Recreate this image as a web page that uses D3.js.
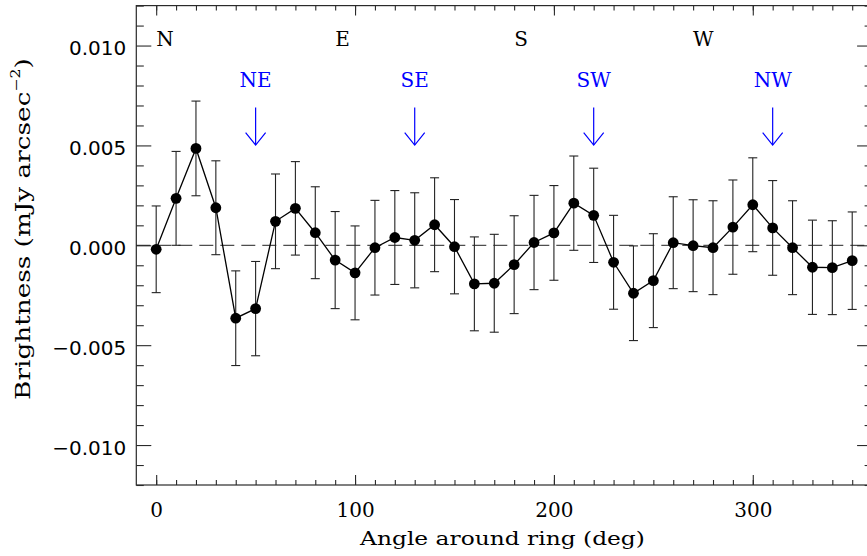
<!DOCTYPE html>
<html>
<head>
<meta charset="utf-8">
<script src="https://cdn.jsdelivr.net/npm/d3@7/dist/d3.min.js"></script>
<style>
  html, body { margin: 0; padding: 0; background: #fff; }
  svg { display: block; font-family: "DejaVu Serif", serif; }
</style>
</head>
<body>
<svg id="chart" width="867" height="556"></svg>
<script>
// Ring brightness profile versus azimuthal angle
const angles = [0, 10, 20, 30, 40, 50, 60, 70, 80, 90, 100, 110,
                120, 130, 140, 150, 160, 170, 180, 190, 200, 210, 220, 230,
                240, 250, 260, 270, 280, 290, 300, 310, 320, 330, 340, 350];
const brightness = [-0.00020, 0.00235, 0.00485, 0.00188, -0.00365, -0.00317,
                    0.00120, 0.00185, 0.00063, -0.00074, -0.00138, -0.00012,
                    0.00039, 0.00025, 0.00103, -0.00007, -0.00193, -0.00190,
                    -0.00097, 0.00014, 0.00062, 0.00211, 0.00150, -0.00085,
                    -0.00240, -0.00177, 0.00013, -0.00002, -0.00012, 0.00091,
                    0.00203, 0.00087, -0.00012, -0.00110, -0.00112, -0.00077];
const brightnessErr = [0.00217, 0.00235, 0.00237, 0.00235, 0.00237, 0.00236,
                       0.00237, 0.00234, 0.00230, 0.00243, 0.00235, 0.00237,
                       0.00235, 0.00238, 0.00235, 0.00236, 0.00235, 0.00245,
                       0.00245, 0.00236, 0.00237, 0.00236, 0.00236, 0.00235,
                       0.00237, 0.00235, 0.00230, 0.00230, 0.00235, 0.00236,
                       0.00235, 0.00237, 0.00235, 0.00236, 0.00235, 0.00244];

// Cardinal and intercardinal markers
const cardinalLabels = ["N", "E", "S", "W"];
const cardinalAngles = [0, 90, 180, 270];
const diagonalLabels = ["NE", "SE", "SW", "NW"];
const diagonalAngles = [50, 130, 220, 310];

// Axis ticks
const xMajorTicks = [0, 100, 200, 300];
const xMinorTicks = [0, 10, 20, 30, 40, 50, 60, 70, 80, 90, 100, 110, 120, 130,
                     140, 150, 160, 170, 180, 190, 200, 210, 220, 230, 240, 250,
                     260, 270, 280, 290, 300, 310, 320, 330, 340, 350];
const yMajorTicks = [-0.010, -0.005, 0.000, 0.005, 0.010];
const yMajorLabels = ["\u22120.010", "\u22120.005", "0.000", "0.005", "0.010"];
const yMinorTicks = [-0.012, -0.011, -0.009, -0.008, -0.007, -0.006, -0.004, -0.003,
                     -0.002, -0.001, 0.001, 0.002, 0.003, 0.004, 0.006, 0.007,
                     0.008, 0.009, 0.011, 0.012];

const svg = d3.select("#chart");
const plotL = 136.3, plotR = 872.1, plotT = 5.6, plotB = 485;

const x = d3.scaleLinear().domain([-10, 360]).range([plotL, plotR]);
const y = d3.scaleLinear().domain([-0.012, 0.012]).range([plotB, plotT]);

const frameColor = "#2a2a2a";

// Axes with inward ticks on all four sides
function styleAxis(g) {
  g.select(".domain").remove();
  g.selectAll(".tick line").attr("stroke", frameColor).attr("stroke-width", 1.1);
}

svg.append("g").attr("transform", `translate(0,${plotB})`)
  .call(d3.axisBottom(x).tickValues(xMinorTicks).tickSize(-5).tickFormat(""))
  .call(styleAxis);
svg.append("g").attr("transform", `translate(0,${plotT})`)
  .call(d3.axisTop(x).tickValues(xMinorTicks).tickSize(-5).tickFormat(""))
  .call(styleAxis);

const xBottom = svg.append("g").attr("transform", `translate(0,${plotB})`)
  .call(d3.axisBottom(x).tickValues(xMajorTicks).tickSize(-10).tickFormat(d3.format("d")))
  .call(styleAxis);
xBottom.selectAll(".tick text")
  .attr("y", 32).attr("dy", 0)
  .attr("fill", "#000").attr("font-size", 20)
  .attr("font-family", "DejaVu Serif");
svg.append("g").attr("transform", `translate(0,${plotT})`)
  .call(d3.axisTop(x).tickValues(xMajorTicks).tickSize(-10).tickFormat(""))
  .call(styleAxis);

svg.append("g").attr("transform", `translate(${plotL},0)`)
  .call(d3.axisLeft(y).tickValues(yMinorTicks).tickSize(-7.5).tickFormat(""))
  .call(styleAxis);
svg.append("g").attr("transform", `translate(${plotR},0)`)
  .call(d3.axisRight(y).tickValues(yMinorTicks).tickSize(-7.5).tickFormat(""))
  .call(styleAxis);

const yLeft = svg.append("g").attr("transform", `translate(${plotL},0)`)
  .call(d3.axisLeft(y).tickValues(yMajorTicks).tickSize(-15).tickPadding(10)
        .tickFormat((d, i) => yMajorLabels[i]))
  .call(styleAxis);
yLeft.selectAll(".tick text")
  .attr("dy", 9.3)
  .attr("fill", "#000").attr("font-size", 20)
  .attr("font-family", "DejaVu Sans");
svg.append("g").attr("transform", `translate(${plotR},0)`)
  .call(d3.axisRight(y).tickValues(yMajorTicks).tickSize(-15).tickFormat(""))
  .call(styleAxis);

// Plot frame
svg.append("rect")
  .attr("x", plotL).attr("y", plotT)
  .attr("width", plotR - plotL).attr("height", plotB - plotT)
  .attr("fill", "none").attr("stroke", frameColor).attr("stroke-width", 1.2);

// Zero level
svg.append("line")
  .attr("x1", plotL).attr("x2", plotR)
  .attr("y1", y(0)).attr("y2", y(0))
  .attr("stroke", "#222").attr("stroke-width", 1)
  .attr("stroke-dasharray", "14,7");

// Axis titles, stretched to the wide plotting font
function stretchTo(textSel, width, base) {
  const w = textSel.node().getComputedTextLength();
  textSel.attr("transform", `${base} scale(${width / w},1)`);
}

const xTitle = svg.append("text")
  .attr("text-anchor", "middle")
  .attr("font-size", 19).attr("fill", "#000")
  .text("Angle around ring (deg)");
stretchTo(xTitle, 285, "translate(502.5,545)");

const yTitle = svg.append("text")
  .attr("text-anchor", "middle")
  .attr("font-size", 20).attr("fill", "#000");
yTitle.append("tspan").text("Brightness (mJy arcsec");
yTitle.append("tspan").attr("font-size", 12).attr("dy", -10).text("\u22122");
yTitle.append("tspan").attr("dy", 10).text(")");
stretchTo(yTitle, 342, "translate(30,229) rotate(-90)");

// Direction letters
svg.append("g").selectAll("text")
  .data(cardinalLabels)
  .join("text")
  .attr("x", (d, i) => x(cardinalAngles[i]))
  .attr("y", 46)
  .attr("font-size", 20).attr("fill", "#000")
  .text(d => d);

const diag = svg.append("g").attr("fill", "none");
diag.selectAll("text")
  .data(diagonalLabels)
  .join("text")
  .attr("x", (d, i) => x(diagonalAngles[i]))
  .attr("y", 87)
  .attr("text-anchor", "middle")
  .attr("font-size", 20).attr("fill", "#0000ff")
  .text(d => d);

const arrowTop = 0.0069, arrowTip = 0.00502;
diagonalAngles.forEach(a => {
  const ax = x(a);
  const g = diag.append("g").attr("stroke", "#0000ff").attr("stroke-width", 1.2);
  g.append("line").attr("x1", ax).attr("x2", ax).attr("y1", y(arrowTop)).attr("y2", y(arrowTip));
  g.append("polyline")
    .attr("points", `${ax - 10},${y(arrowTip) - 12.3} ${ax},${y(arrowTip)} ${ax + 10},${y(arrowTip) - 12.3}`);
});

// Error bars
const pts = angles.map((a, i) => ({ a, v: brightness[i], e: brightnessErr[i] }));
const cap = 4.5;
const eb = svg.append("g").attr("stroke", "#222").attr("stroke-width", 1.1);
eb.selectAll("line.v").data(pts).join("line").attr("class", "v")
  .attr("x1", d => x(d.a)).attr("x2", d => x(d.a))
  .attr("y1", d => y(d.v + d.e)).attr("y2", d => y(d.v - d.e));
eb.selectAll("line.t").data(pts).join("line").attr("class", "t")
  .attr("x1", d => x(d.a) - cap).attr("x2", d => x(d.a) + cap)
  .attr("y1", d => y(d.v + d.e)).attr("y2", d => y(d.v + d.e));
eb.selectAll("line.b").data(pts).join("line").attr("class", "b")
  .attr("x1", d => x(d.a) - cap).attr("x2", d => x(d.a) + cap)
  .attr("y1", d => y(d.v - d.e)).attr("y2", d => y(d.v - d.e));

// Connecting line and points
svg.append("path")
  .datum(pts)
  .attr("fill", "none").attr("stroke", "#000").attr("stroke-width", 1.3)
  .attr("d", d3.line().x(d => x(d.a)).y(d => y(d.v)));

svg.append("g").selectAll("circle")
  .data(pts)
  .join("circle")
  .attr("cx", d => x(d.a)).attr("cy", d => y(d.v))
  .attr("r", 5.4).attr("fill", "#000");
</script>
</body>
</html>
